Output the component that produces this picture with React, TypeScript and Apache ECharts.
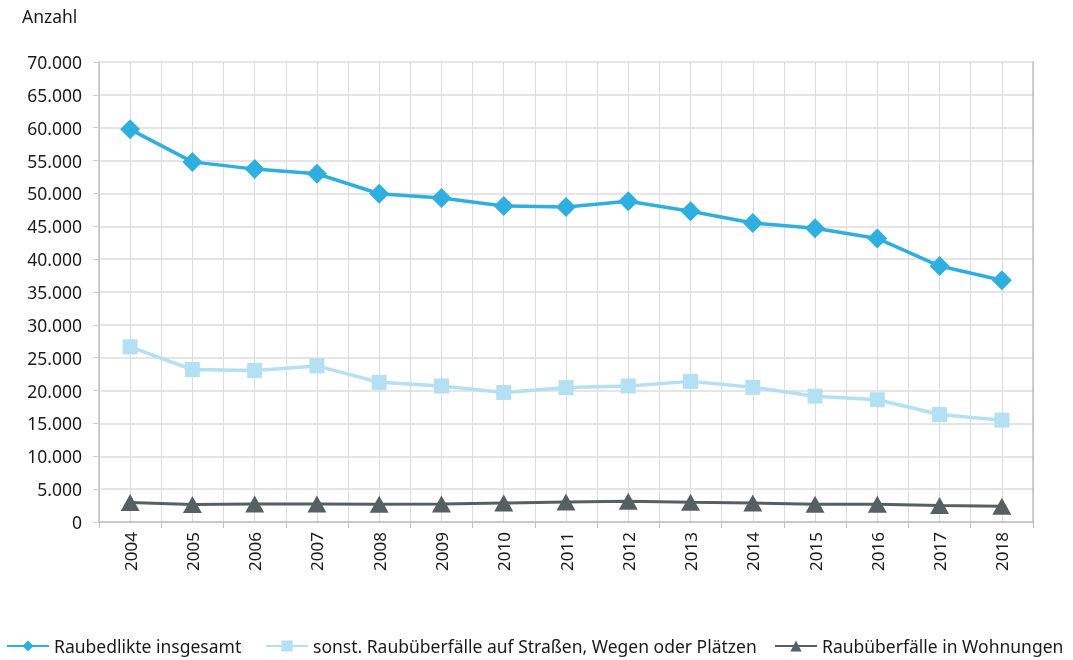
import React, { useEffect, useRef } from "react";
import * as echarts from "echarts";

const years = ["2004","2005","2006","2007","2008","2009","2010","2011","2012","2013","2014","2015","2016","2017","2018"];
const seriesNames = [
  "Raubedlikte insgesamt",
  "sonst. Raubüberfälle auf Straßen, Wegen oder Plätzen",
  "Raubüberfälle in Wohnungen",
];
const raubInsgesamt = [59750, 54800, 53700, 53000, 49950, 49300, 48100, 47950, 48800, 47300, 45500, 44700, 43150, 38950, 36800];
const raubStrassen = [26650, 23200, 23050, 23750, 21250, 20700, 19700, 20450, 20700, 21400, 20500, 19150, 18600, 16350, 15500];
const raubWohnungen = [2950, 2650, 2750, 2750, 2700, 2750, 2900, 3050, 3150, 3000, 2900, 2700, 2700, 2500, 2400];
const yTicks = [0, 5000, 10000, 15000, 20000, 25000, 30000, 35000, 40000, 45000, 50000, 55000, 60000, 65000, 70000];

const colors = ["#2faee0", "#b3e0f3", "#566063"];
const FONT = "'Noto Sans', sans-serif";

function fmt(v: number) {
  if (v === 0) return "0";
  const s = String(Math.round(v));
  return s.replace(/\B(?=(\d{3})+(?!\d))/g, ".");
}

export default function App() {
  const ref = useRef<HTMLDivElement>(null);
  useEffect(() => {
    const chart = echarts.init(ref.current!, null, { renderer: "svg" });
    const legendBase = {
      orient: "horizontal",
      top: 637,
      itemWidth: 42,
      itemHeight: 14,
      itemGap: 0,
      padding: 0,
      textStyle: { fontFamily: FONT, fontSize: 17.5, color: "#1a1a1a" },
    };
    chart.setOption({
      animation: false,
      color: colors,
      textStyle: { fontFamily: FONT },
      grid: { left: 99, right: 40, top: 62, bottom: 138, containLabel: false },
      graphic: [
        { type: "text", left: 22, top: 7, style: { text: "Anzahl", font: `17.5px ${FONT}`, fill: "#1a1a1a" } },
      ],
      legend: [
        { ...legendBase, left: 6, data: [seriesNames[0]] },
        { ...legendBase, left: 265, data: [seriesNames[1]] },
        { ...legendBase, left: 774, data: [seriesNames[2]] },
      ],
      xAxis: [
        {
          type: "category",
          data: years,
          boundaryGap: true,
          axisLine: { show: true, lineStyle: { color: "#bfbfbf", width: 1.5 } },
          axisTick: { show: true, length: 6, alignWithLabel: false, lineStyle: { color: "#bfbfbf" } },
          axisLabel: { rotate: 90, margin: 10, fontFamily: FONT, fontSize: 17, color: "#1a1a1a" },
          splitLine: { show: false },
        },
        {
          type: "value",
          min: 0,
          max: 30,
          interval: 1,
          position: "bottom",
          axisLine: { show: false },
          axisTick: { show: false },
          axisLabel: { show: false },
          splitLine: { show: true, lineStyle: { color: "#dcdcdc", width: 1 } },
        },
      ],
      yAxis: [
        {
          type: "value",
          min: 0,
          max: 70000,
          interval: 5000,
          axisLine: { show: true, lineStyle: { color: "#bfbfbf", width: 1.5 } },
          axisTick: { show: true, length: 6, lineStyle: { color: "#d0d0d0" } },
          axisLabel: { margin: 17, fontFamily: FONT, fontSize: 17.5, color: "#1a1a1a", formatter: (v: number) => (yTicks.includes(v) ? fmt(v) : "") },
          splitLine: { show: true, lineStyle: { color: "#dcdcdc", width: 1.5 } },
        },
        {
          type: "value",
          min: 0,
          max: 70000,
          interval: 5000,
          position: "right",
          axisLine: { show: true, lineStyle: { color: "#bfbfbf", width: 1.5 } },
          axisTick: { show: false },
          axisLabel: { show: false },
          splitLine: { show: false },
        },
      ],
      series: [
        {
          name: seriesNames[0],
          type: "line",
          data: raubInsgesamt,
          symbol: "diamond",
          symbolSize: 20,
          lineStyle: { width: 3.5, color: colors[0] },
          itemStyle: { color: colors[0] },
          z: 4,
        },
        {
          name: seriesNames[1],
          type: "line",
          data: raubStrassen,
          symbol: "rect",
          symbolSize: 15,
          lineStyle: { width: 3.5, color: colors[1] },
          itemStyle: { color: colors[1] },
          z: 3,
        },
        {
          name: seriesNames[2],
          type: "line",
          data: raubWohnungen,
          symbol: "triangle",
          symbolSize: [19, 17],
          lineStyle: { width: 3, color: colors[2] },
          itemStyle: { color: colors[2] },
          z: 3,
        },
      ],
    });
    return () => chart.dispose();
  }, []);
  return <div ref={ref} style={{ position: "fixed", left: 0, top: 0, width: 1073, height: 660 }} />;
}
